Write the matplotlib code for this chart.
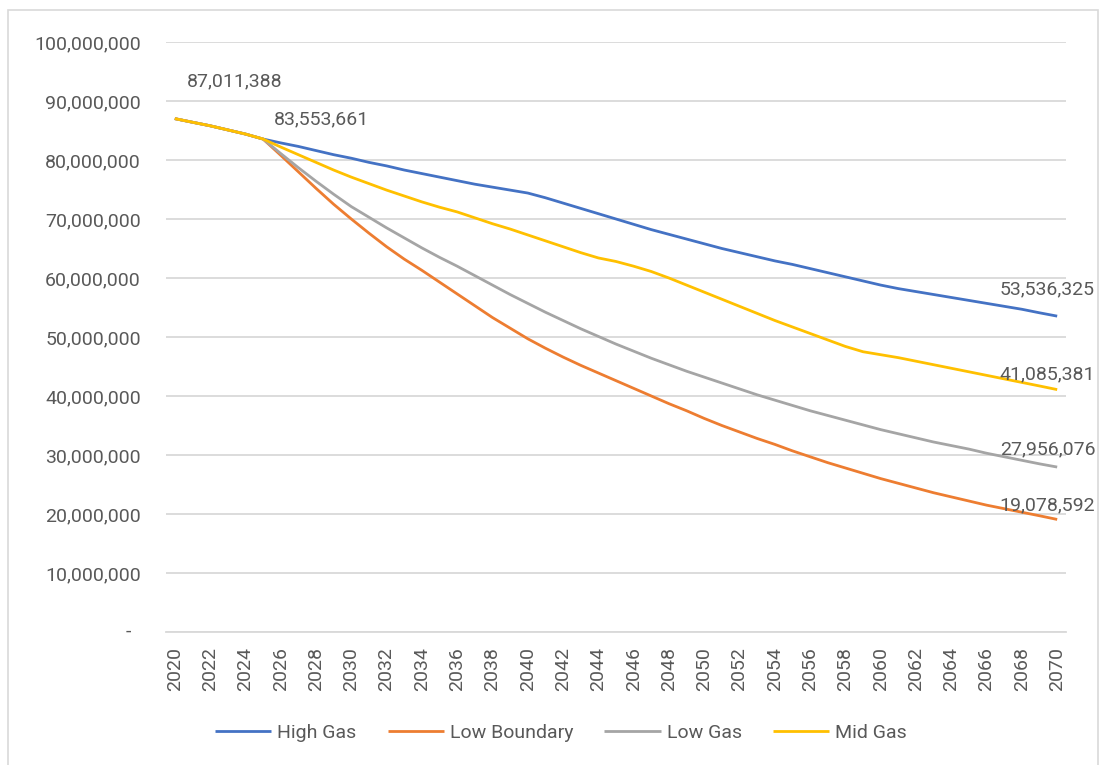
import matplotlib
matplotlib.use("Agg")
import matplotlib.pyplot as plt
from matplotlib.patches import Rectangle
from matplotlib.ticker import FuncFormatter, MultipleLocator
import numpy as np

plt.rcParams['font.family'] = ['Roboto', 'DejaVu Sans']

years = np.arange(2020, 2071)

# Shared history up to 2025, then the scenarios split
history = [87.011388, 86.4, 85.8, 85.1, 84.4, 83.553661]

high_gas = history + [
    82.9, 82.3, 81.6, 80.9, 80.3, 79.6, 79.0, 78.3, 77.7, 77.1,
    76.5, 75.9, 75.4, 74.9, 74.4, 73.6, 72.7, 71.8, 70.9, 70.0,
    69.1, 68.2, 67.4, 66.6, 65.8, 65.0, 64.3, 63.6, 62.9, 62.3,
    61.6, 60.9, 60.2, 59.5, 58.8, 58.2, 57.7, 57.2, 56.7, 56.2,
    55.7, 55.2, 54.7, 54.1, 53.536325]

low_boundary = history + [
    80.8, 78.0, 75.2, 72.5, 70.0, 67.6, 65.3, 63.2, 61.3, 59.3,
    57.3, 55.3, 53.3, 51.5, 49.7, 48.1, 46.6, 45.2, 43.9, 42.6,
    41.3, 40.0, 38.7, 37.5, 36.2, 35.0, 33.9, 32.8, 31.8, 30.7,
    29.7, 28.7, 27.8, 26.9, 26.0, 25.2, 24.4, 23.6, 22.9, 22.2,
    21.5, 20.9, 20.3, 19.7, 19.078592]

low_gas = history + [
    81.1, 78.7, 76.4, 74.2, 72.1, 70.3, 68.5, 66.8, 65.1, 63.5,
    62.0, 60.4, 58.8, 57.2, 55.7, 54.2, 52.8, 51.4, 50.1, 48.8,
    47.6, 46.4, 45.3, 44.2, 43.2, 42.2, 41.2, 40.2, 39.3, 38.4,
    37.5, 36.7, 35.9, 35.1, 34.3, 33.6, 32.9, 32.2, 31.6, 31.0,
    30.3, 29.7, 29.1, 28.5, 27.956076]

mid_gas = history + [
    82.2, 80.9, 79.6, 78.3, 77.1, 76.0, 74.9, 73.9, 72.9, 72.0,
    71.2, 70.2, 69.2, 68.3, 67.3, 66.3, 65.3, 64.3, 63.4, 62.8,
    62.0, 61.1, 60.0, 58.8, 57.6, 56.4, 55.2, 54.0, 52.8, 51.7,
    50.6, 49.5, 48.4, 47.5, 47.0, 46.5, 45.9, 45.3, 44.7, 44.1,
    43.5, 42.9, 42.3, 41.7, 41.085381]

series = [
    ("High Gas", high_gas, "#4472C4"),
    ("Low Boundary", low_boundary, "#ED7D31"),
    ("Low Gas", low_gas, "#A5A5A5"),
    ("Mid Gas", mid_gas, "#FFC000"),
]

# (series index, year index, x offset pt, y offset pt)
labels = [
    (0, 0, 43, 27),
    (0, 5, 42, 14),
    (0, 50, -7, 19),
    (3, 50, -7, 11),
    (2, 50, -7, 13),
    (1, 50, -7, 10),
]

text_col = "#595959"
grid_col = "#D9D9D9"

fig = plt.figure(figsize=(11.02, 7.65), dpi=100)
ax = fig.add_axes([166 / 1102, 1 - 632 / 765, 900 / 1102, 590 / 765])

for name, vals, col in series:
    ax.plot(years, np.array(vals) * 1e6, color=col, lw=2.0, label=name,
            solid_capstyle="butt")

for si, yi, dx, dy in labels:
    v = series[si][1][yi] * 1e6
    ax.annotate(f"{v:,.0f}", xy=(years[yi], v), xytext=(dx, dy),
                textcoords="offset points", ha="center", va="center",
                fontsize=14, color=text_col)

ax.set_xlim(2019.5, 2070.5)
ax.set_ylim(0, 100e6)
ax.yaxis.set_major_locator(MultipleLocator(10e6))
ax.yaxis.set_major_formatter(FuncFormatter(lambda v, p: "" if v == 0 else f"{v:,.0f}"))
ax.annotate("-", xy=(0, 0), xycoords=("axes fraction", "data"), xytext=(-25, 0),
            textcoords="offset points", ha="right", va="center",
            fontsize=14, color=text_col)
ax.set_xticks(years[::2])
ax.set_xticklabels([str(y) for y in years[::2]], rotation=90)

ax.grid(axis="y", color=grid_col, lw=1.3)
ax.set_axisbelow(True)
for s in ["top", "right", "left"]:
    ax.spines[s].set_visible(False)
ax.spines["bottom"].set_color(grid_col)
ax.spines["bottom"].set_linewidth(1.3)
ax.tick_params(axis="y", length=0, pad=18, labelsize=14, labelcolor=text_col)
ax.tick_params(axis="x", length=0, pad=11, labelsize=14, labelcolor=text_col)

fig.legend(loc="center", bbox_to_anchor=(561 / 1102, 1 - 733 / 765), ncol=4,
           frameon=False, fontsize=14, labelcolor=text_col,
           handlelength=2.9, handletextpad=0.3, columnspacing=1.6)

# light frame around the chart
fig.add_artist(Rectangle((8 / 1102, -0.02), 1090 / 1102, 1 - 10 / 765 + 0.02,
                         transform=fig.transFigure, fill=False,
                         edgecolor=grid_col, lw=1.2))

fig.savefig("out.png", dpi=100)
